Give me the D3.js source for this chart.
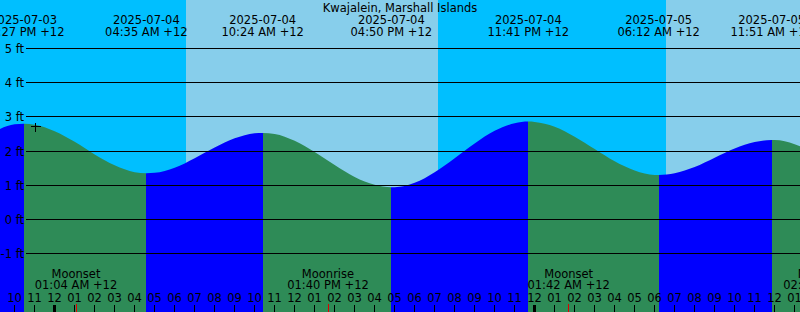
<!DOCTYPE html>
<html>
<head>
<meta charset="UTF-8">
<title>Kwajalein, Marshall Islands</title>
<script src="https://cdn.jsdelivr.net/npm/d3@7"></script>
<style>
  body { margin: 0; background: #fff; }
  svg text { font-family: "DejaVu Sans", sans-serif; font-size: 11.5px; fill: #000; }
  .grid { stroke: #000; stroke-width: 1; shape-rendering: crispEdges; }
  .tick { stroke: #000; shape-rendering: crispEdges; }
</style>
</head>
<body>
<div id="graphe"></div>
<script>
var stationName = "Kwajalein, Marshall Islands";

// window shown (local time, +12)
var viewStart = "2025-07-03 21:16";
var viewHours = 40;

// tide height every hour from 21:00, in feet
var hourStart = "2025-07-03 21:00";
var hourlyFeet = [2.58, 2.78, 2.77, 2.58, 2.27, 1.90, 1.58, 1.38, 1.36, 1.51,
                  1.79, 2.10, 2.37, 2.52, 2.50, 2.30, 1.97, 1.59, 1.24, 1.01,
                  0.94, 1.07, 1.38, 1.79, 2.22, 2.59, 2.81, 2.85, 2.71, 2.42,
                  2.06, 1.70, 1.43, 1.30, 1.35, 1.53, 1.80, 2.07, 2.26, 2.32,
                  2.20, 1.92];

// high and low waters
var extremeTimes = ["2025-07-03 22:27", "2025-07-04 04:35", "2025-07-04 10:24", "2025-07-04 16:50",
                    "2025-07-04 23:41", "2025-07-05 06:12", "2025-07-05 11:51"];
var extremeFeet = [2.80, 1.35, 2.53, 0.94, 2.86, 1.30, 2.32];
var extremeKinds = ["High", "Low", "High", "Low", "High", "Low", "High"];

// sunrise / sunset
var sunTimes = ["2025-07-04 06:33", "2025-07-04 19:11", "2025-07-05 06:33"];
var sunKinds = ["rise", "set", "rise"];

// moon
var moonTimes = ["2025-07-04 01:04", "2025-07-04 13:40", "2025-07-05 01:42", "2025-07-05 14:28"];
var moonKinds = ["Moonset", "Moonrise", "Moonset", "Moonrise"];

var feetTicks = [-1, 0, 1, 2, 3, 4, 5];

// current time mark
var nowTime = "2025-07-03 23:01";
var nowFeet = 2.73;

var width = 800, height = 312;
var nightColor = "#00bfff", dayColor = "#87ceeb",
    risingColor = "#0000ff", fallingColor = "#2e8b57";

var parse = d3.timeParse("%Y-%m-%d %H:%M");
var fmtDate = d3.timeFormat("%Y-%m-%d"),
    fmtTime = function(d) { return d3.timeFormat("%I:%M %p")(d) + " +12"; },
    fmtHour = d3.timeFormat("%I");

var t0 = parse(viewStart), t1 = d3.timeHour.offset(t0, viewHours);

var x = d3.scaleTime().domain([t0, t1]).range([0, width]);
var y = d3.scaleLinear().domain([-1, 5]).range([253.5, 48.5]);

var svg = d3.select("#graphe").append("svg")
    .attr("width", width).attr("height", height);

// sky : day / night bands
var bounds = [t0].concat(sunTimes.map(parse)).concat([t1]);
var bands = [];
for (var i = 0; i < bounds.length - 1; i++) {
  // band before a sunrise is night
  var night = i < sunKinds.length ? sunKinds[i] === "rise" : sunKinds[sunKinds.length - 1] === "set";
  bands.push({a: bounds[i], b: bounds[i + 1], night: night});
}
svg.append("g").selectAll("rect")
  .data(bands)
  .enter().append("rect")
  .attr("x", function(d) { return Math.round(x(d.a)); })
  .attr("width", function(d) { return Math.round(x(d.b)) - Math.round(x(d.a)); })
  .attr("y", 0).attr("height", height)
  .attr("fill", function(d) { return d.night ? nightColor : dayColor; })
  .attr("shape-rendering", "crispEdges");

// tide readings, hourly + extremes
var readings = hourlyFeet.map(function(f, i) {
  return {t: d3.timeHour.offset(parse(hourStart), i), f: f};
});
extremeTimes.forEach(function(s, i) {
  readings.push({t: parse(s), f: extremeFeet[i]});
});
readings.sort(function(a, b) { return a.t - b.t; });

var area = d3.area()
  .x(function(d) { return x(d.t); })
  .y0(height)
  .y1(function(d) { return y(d.f); })
  .curve(d3.curveMonotoneX);

svg.append("clipPath").attr("id", "water")
  .append("path").attr("d", area(readings));

// rising = blue, falling = green
var ext = extremeTimes.map(parse);
var segs = [];
var edges = [t0].concat(ext).concat([t1]);
for (var k = 0; k < edges.length - 1; k++) {
  var rising = k < extremeKinds.length ? extremeKinds[k] === "High" : extremeKinds[extremeKinds.length - 1] === "Low";
  segs.push({a: edges[k], b: edges[k + 1], rising: rising});
}
svg.append("g").attr("clip-path", "url(#water)")
  .selectAll("rect")
  .data(segs)
  .enter().append("rect")
  .attr("x", function(d) { return Math.round(x(d.a)); })
  .attr("width", function(d) { return Math.round(x(d.b)) - Math.round(x(d.a)); })
  .attr("y", 0).attr("height", height)
  .attr("fill", function(d) { return d.rising ? risingColor : fallingColor; })
  .attr("shape-rendering", "crispEdges");

// feet lines
var grid = svg.append("g");
grid.selectAll("line")
  .data(feetTicks)
  .enter().append("line")
  .attr("class", "grid")
  .attr("x1", 26).attr("x2", width)
  .attr("y1", function(d) { return Math.floor(y(d)) + 0.5; })
  .attr("y2", function(d) { return Math.floor(y(d)) + 0.5; });
grid.selectAll("text")
  .data(feetTicks)
  .enter().append("text")
  .attr("x", 24)
  .attr("y", function(d) { return Math.floor(y(d)) + 4.5; })
  .attr("text-anchor", "end")
  .text(function(d) { return d + " ft"; });

// title
svg.append("text")
  .attr("x", width / 2).attr("y", 11.5)
  .attr("text-anchor", "middle")
  .text(stationName);

// high / low labels
var tideLab = svg.append("g").selectAll("g")
  .data(ext)
  .enter().append("g");
tideLab.append("text")
  .attr("x", function(d) { return x(d); }).attr("y", 23.5)
  .attr("text-anchor", "middle")
  .text(fmtDate);
tideLab.append("text")
  .attr("x", function(d) { return x(d); }).attr("y", 35.5)
  .attr("text-anchor", "middle")
  .text(fmtTime);

// moon labels
var moon = moonTimes.map(function(s, i) { return {t: parse(s), kind: moonKinds[i]}; });
var ml = svg.append("g").selectAll("g")
  .data(moon)
  .enter().append("g");
ml.append("text")
  .attr("x", function(d) { return x(d.t); }).attr("y", 277.5)
  .attr("text-anchor", "middle")
  .text(function(d) { return d.kind; });
ml.append("text")
  .attr("x", function(d) { return x(d.t); }).attr("y", 289)
  .attr("text-anchor", "middle")
  .text(function(d) { return fmtTime(d.t); });

// hour ticks and labels
var hours = d3.timeHour.range(d3.timeHour.ceil(t0), t1);
var ht = svg.append("g");
ht.selectAll("text")
  .data(hours)
  .enter().append("text")
  .attr("x", function(d) { return Math.floor(x(d)) + 0.5; })
  .attr("y", 301.5)
  .attr("text-anchor", "middle")
  .text(fmtHour);
ht.selectAll("line")
  .data(hours)
  .enter().append("line")
  .attr("class", "tick")
  .attr("x1", function(d) { return Math.floor(x(d)) + 0.5; })
  .attr("x2", function(d) { return Math.floor(x(d)) + 0.5; })
  .attr("y1", 305).attr("y2", height)
  .attr("stroke-width", function(d) { return d.getHours() === 0 ? 3 : 1; });

svg.append("g").selectAll("line")
  .data(moon)
  .enter().append("line")
  .attr("x1", function(d) { return Math.floor(x(d.t)) + 0.5; })
  .attr("x2", function(d) { return Math.floor(x(d.t)) + 0.5; })
  .attr("y1", 304).attr("y2", height)
  .attr("stroke", "#e00000")
  .attr("shape-rendering", "crispEdges");

// now mark
var nx = Math.floor(x(parse(nowTime))) + 0.5, ny = Math.floor(y(nowFeet)) + 0.5;
svg.append("path")
  .attr("d", "M" + (nx - 5) + "," + ny + "H" + (nx + 5) + "M" + nx + "," + (ny - 4) + "V" + (ny + 5))
  .attr("stroke", "#000")
  .attr("fill", "none")
  .attr("shape-rendering", "crispEdges");
</script>
</body>
</html>
